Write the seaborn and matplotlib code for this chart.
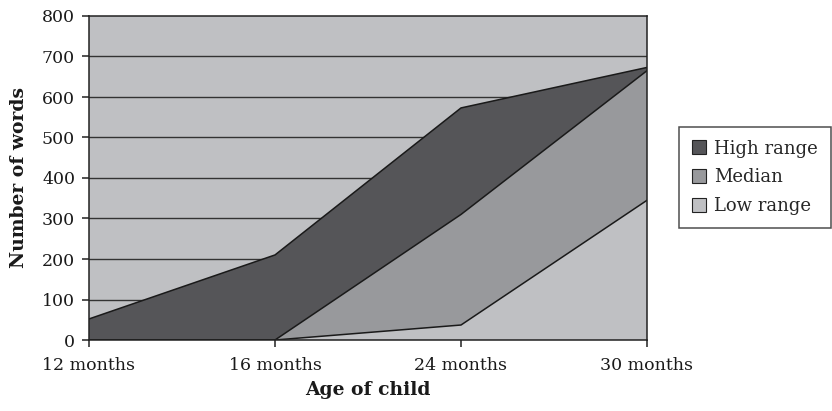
import matplotlib
matplotlib.use("Agg")
import matplotlib.pyplot as plt
from matplotlib.patches import Patch
import seaborn as sns
import pandas as pd

categories = ["12 months", "16 months", "24 months", "30 months"]
high_range = [52, 210, 573, 673]
median = [0, 0, 310, 665]
low_range = [0, 0, 37, 345]

series_names = ["High range", "Median", "Low range"]
series_values = [high_range, median, low_range]
series_colors = ["#555558", "#98999c", "#bfc0c3"]

sns.set_theme(style="white")
plt.rcParams["font.family"] = ["DejaVu Serif", "Liberation Serif"]

fig = plt.figure(figsize=(8.32, 4.11), dpi=100)
ax = fig.add_axes([89 / 832, 1 - 340 / 411, (647 - 89) / 832, (340 - 16) / 411])
ax.set_facecolor("#bfc0c3")

x = list(range(len(categories)))
rows = []
for name, vals in zip(series_names, series_values):
    for xi, v in zip(x, vals):
        rows.append({"x": xi, "words": v, "series": name})
df = pd.DataFrame(rows)

for i, (name, color) in enumerate(zip(series_names, series_colors)):
    sub = df[df["series"] == name]
    ax.fill_between(sub["x"], 0, sub["words"], facecolor=color, edgecolor="none", zorder=2 + i)
    sns.lineplot(data=sub, x="x", y="words", color="#1a1a1a", linewidth=1.1,
                 ax=ax, zorder=2.5 + i, legend=False)

ax.set_xlim(0, 3)
ax.set_ylim(0, 800)
ax.set_yticks(range(0, 801, 100))
ax.set_xticks(x)
ax.set_xticklabels(categories)
ax.grid(False)
for yv in range(100, 800, 100):
    ax.axhline(yv, color="#333333", linewidth=1.0, zorder=1)

for s in ax.spines.values():
    s.set_visible(True)
    s.set_color("#222222")
    s.set_linewidth(1.1)
    s.set_zorder(10)

ax.tick_params(axis="both", which="both", direction="out", length=5, width=1.1,
               color="#222222", labelsize=12.5, labelcolor="#1a1a1a",
               left=True, bottom=True)
ax.tick_params(axis="x", pad=7)
ax.tick_params(axis="y", pad=5)

ax.set_xlabel("Age of child", fontsize=13.5, fontweight="bold", color="#1a1a1a", labelpad=5)
ax.set_ylabel("Number of words", fontsize=13.5, fontweight="bold", color="#1a1a1a", labelpad=10)

handles = [Patch(facecolor=c, edgecolor="#222222", linewidth=0.8, label=n)
           for n, c in zip(series_names, series_colors)]
leg = fig.legend(handles=handles, loc="upper left", bbox_to_anchor=(679 / 832, 1 - 127 / 411),
                 frameon=True, fancybox=False, fontsize=13, handlelength=0.8,
                 handleheight=0.8, handletextpad=0.45, borderpad=0.7, labelspacing=0.6,
                 borderaxespad=0)
leg.get_frame().set_edgecolor("#222222")
leg.get_frame().set_linewidth(1.1)

fig.savefig("out.png", dpi=100, facecolor="white")
